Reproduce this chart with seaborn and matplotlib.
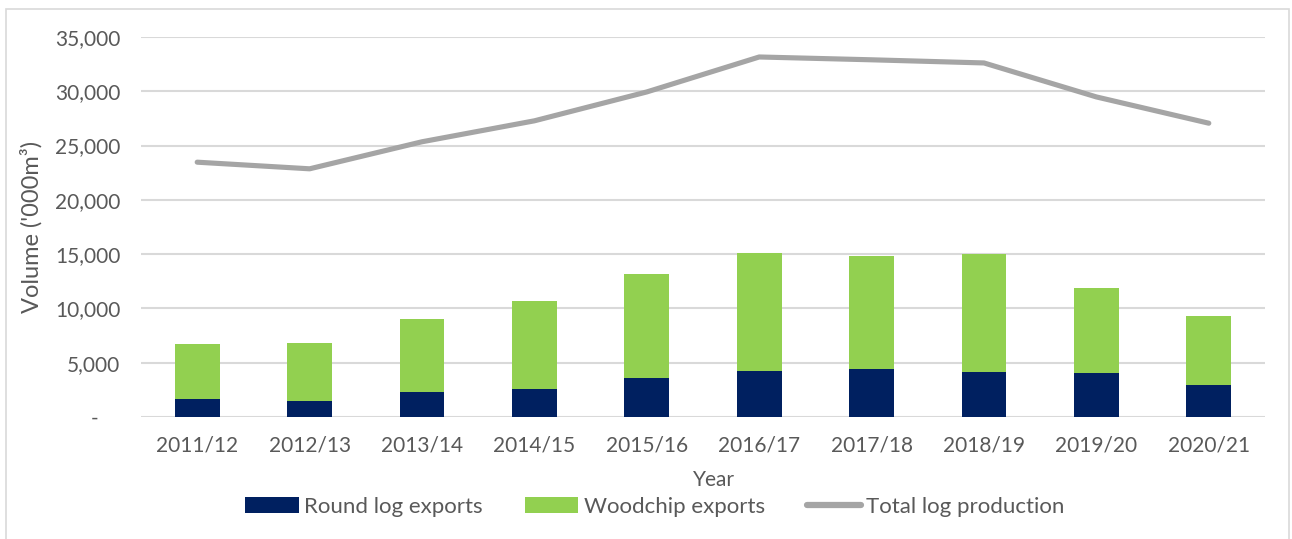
import numpy as np
import pandas as pd
import seaborn as sns
import matplotlib
matplotlib.use("Agg")
import matplotlib.pyplot as plt
from matplotlib.patches import Patch, Rectangle
from matplotlib.lines import Line2D
from matplotlib.ticker import FuncFormatter

# Financial years
years = ["2011/12", "2012/13", "2013/14", "2014/15", "2015/16",
         "2016/17", "2017/18", "2018/19", "2019/20", "2020/21"]
# Volumes in '000 m3
round_log_exports = [1700, 1470, 2300, 2540, 3620, 4260, 4440, 4140, 4050, 2910]
woodchip_exports = [5050, 5360, 6770, 8190, 9560, 10880, 10420, 10910, 7870, 6350]
total_log_production = [23470, 22860, 25350, 27280, 29940, 33160, 32900, 32610, 29480, 27060]

NAVY = "#002060"
GREEN = "#92D050"
GREY_LINE = "#A5A5A5"
GRID = "#D9D9D9"
TEXT = "#595959"

df = pd.DataFrame({
    "Year": years,
    "Round": round_log_exports,
    "Woodchip": woodchip_exports,
    "Total": total_log_production,
})
df["Stack"] = df["Round"] + df["Woodchip"]

sns.set_theme(style="white")
plt.rcParams["font.family"] = ["Lato", "DejaVu Sans"]

W, H = 1292, 539
fig = plt.figure(figsize=(W / 100, H / 100), dpi=100)
ax = fig.add_axes([141 / W, 1 - 417 / H, 1124 / W, 380 / H])

# stacked bars: full stack in green, round logs drawn over it in navy
sns.barplot(data=df, x="Year", y="Stack", color=GREEN, width=0.4,
            saturation=1, ax=ax, zorder=2, linewidth=0)
sns.barplot(data=df, x="Year", y="Round", color=NAVY, width=0.4,
            saturation=1, ax=ax, zorder=3, linewidth=0)

# total log production line over the category positions
sns.lineplot(x=np.arange(len(df)), y=df["Total"], color=GREY_LINE,
             linewidth=3.7, ax=ax, zorder=4, solid_capstyle="round")

ax.set_xlim(-0.5, len(df) - 0.5)
ax.set_ylim(0, 35000)
ax.set_yticks(np.arange(0, 35001, 5000))
ax.yaxis.set_major_formatter(FuncFormatter(
    lambda v, p: "-    " if v == 0 else f"{int(v):,}"))

for s in ax.spines.values():
    s.set_visible(False)
ax.grid(axis="y", color=GRID, linewidth=1.5, zorder=0)
ax.set_axisbelow(True)
ax.tick_params(axis="both", length=0, colors=TEXT, labelsize=15)
ax.tick_params(axis="y", pad=15)
ax.tick_params(axis="x", pad=13)

ax.set_xlabel("Year", fontsize=15, color=TEXT)
ax.xaxis.set_label_coords(0.51, -0.14)
ax.set_ylabel("Volume ('000m³)", fontsize=17, color=TEXT)
ax.yaxis.set_label_coords(-0.088, 0.5)

handles = [
    Patch(facecolor=NAVY, edgecolor="none"),
    Patch(facecolor=GREEN, edgecolor="none"),
    Line2D([0], [0], color=GREY_LINE, linewidth=4.5, solid_capstyle="round"),
]
labels = ["Round log exports", "Woodchip exports", "Total log production"]
fig.legend(handles, labels, loc="center", bbox_to_anchor=(655 / W, 1 - 507 / H),
           ncol=3, frameon=False, fontsize=16, handlelength=2.4,
           handleheight=0.7, handletextpad=0.25, columnspacing=1.9,
           labelcolor=TEXT)

# light outer frame
fig.patches.append(Rectangle((6 / W, -0.05), (1289 - 6) / W, 1.05 - 9 / H,
                             transform=fig.transFigure, fill=False,
                             edgecolor="#D9D9D9", linewidth=1.2))

fig.savefig("out.png", dpi=100)
